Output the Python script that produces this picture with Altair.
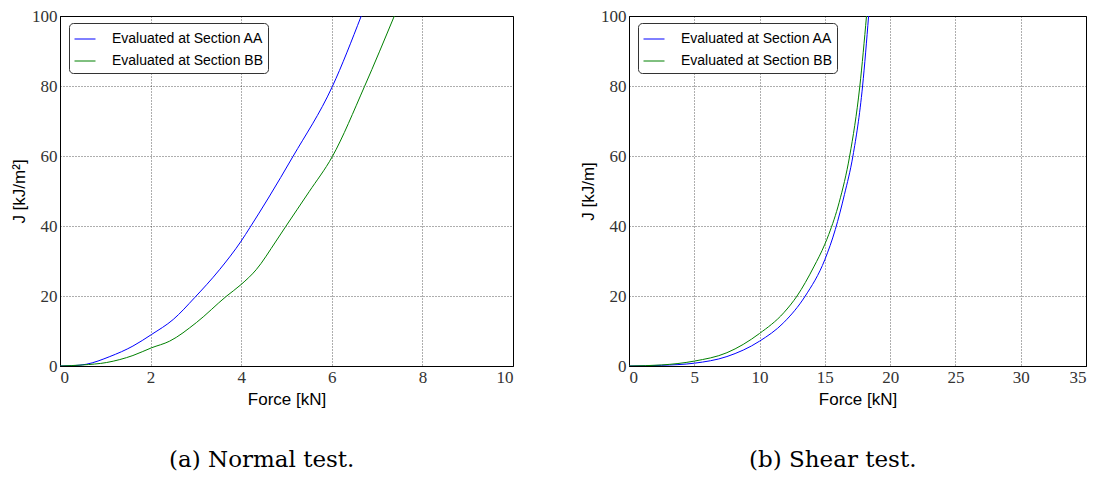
import altair as alt
import pandas as pd

SERIES = ["Evaluated at Section AA", "Evaluated at Section BB"]
COLORS = ["#0000ff", "#008000"]

# Normal test (left)
normal_aa_x = [0, 0.3, 0.58, 1.1, 1.61, 2.02, 2.5, 2.97, 3.52, 4.0, 4.19, 4.6, 5.14, 6.01, 6.65]
normal_aa_j = [0, 0.1, 0.5, 2.7, 5.7, 9.0, 13.3, 19.5, 27.5, 35.7, 39.5, 48.0, 59.8, 79.8, 100]
normal_bb_x = [0, 0.5, 1.03, 1.61, 2.02, 2.42, 3.01, 3.67, 4.0, 4.33, 4.77, 4.98, 5.5, 6.01, 6.72, 7.38]
normal_bb_j = [0, 0.3, 1.0, 3.0, 5.2, 7.1, 12.4, 19.9, 23.3, 27.5, 35.7, 39.8, 49.8, 59.8, 79.8, 100]

# Shear test (right)
shear_aa_x = [0, 2.5, 5, 7.5, 10, 11.85, 13.5, 15.0, 15.8, 16.5, 17.15, 17.89, 18.35]
shear_aa_j = [0, 0.2, 0.8, 2.7, 7.1, 12.4, 20.0, 30.4, 39.0, 49.0, 60.0, 80.0, 100]
shear_bb_x = [0, 2.5, 5, 7.5, 10, 11.85, 12.87, 14.15, 15.0, 15.3, 16.1, 16.9, 17.68, 18.19]
shear_bb_j = [0, 0.3, 1.4, 3.8, 9.3, 15.2, 20.0, 28.3, 34.8, 37.6, 46.8, 60.0, 80.0, 100]

x_ticks_normal = [0, 2, 4, 6, 8, 10]
x_ticks_shear = [0, 5, 10, 15, 20, 25, 30, 35]
y_ticks = [0, 20, 40, 60, 80, 100]


def frame(xa, ja, xb, jb):
    rows = []
    for i, (x, j) in enumerate(zip(xa, ja)):
        rows.append({"force": x, "J": j, "series": SERIES[0], "order": i})
    for i, (x, j) in enumerate(zip(xb, jb)):
        rows.append({"force": x, "J": j, "series": SERIES[1], "order": i})
    return pd.DataFrame(rows)


def panel(df, xmax, xticks, ytitle, caption, w):
    return alt.Chart(df).mark_line(strokeWidth=1, interpolate="monotone", clip=True).encode(
        x=alt.X("force:Q", title="Force [kN]",
                scale=alt.Scale(domain=[0, xmax], nice=False, zero=True),
                axis=alt.Axis(values=xticks, format="d")),
        y=alt.Y("J:Q", title=ytitle,
                scale=alt.Scale(domain=[0, 100], nice=False),
                axis=alt.Axis(values=y_ticks, format="d")),
        color=alt.Color("series:N", title=None,
                        scale=alt.Scale(domain=SERIES, range=COLORS),
                        legend=alt.Legend(orient="none", legendX=9, legendY=7)),
        order="order:Q",
    ).properties(
        width=w, height=350,
        title=alt.TitleParams(caption, orient="bottom", anchor="middle", frame="bounds",
                              font="DejaVu Serif", fontSize=23, fontWeight="normal",
                              color="#000", offset=42),
    )


left = panel(frame(normal_aa_x, normal_aa_j, normal_bb_x, normal_bb_j), 10, x_ticks_normal,
             "J [kJ/m²]", "(a) Normal test.", 453)
right = panel(frame(shear_aa_x, shear_aa_j, shear_bb_x, shear_bb_j), 35, x_ticks_shear,
              "J [kJ/m]", "(b) Shear test.", 457)

chart = alt.hconcat(left, right, spacing=65).resolve_scale(color="independent").properties(
    padding={"left": 10, "top": 6, "right": 0, "bottom": 0},
    background="white",
).configure_view(
    stroke="black", strokeWidth=1,
).configure_axis(
    domainColor="black", domainWidth=1,
    grid=True, gridColor="#000", gridDash=[1, 2], gridWidth=0.8, gridOpacity=0.8,
    ticks=False,
    labelFont="Liberation Serif", labelFontSize=17, labelColor="#333", labelPadding=3,
    titleFont="Liberation Sans", titleFontSize=17, titleFontWeight="normal", titleColor="#000",
).configure_axisX(
    titlePadding=6,
).configure_axisY(
    titlePadding=3,
).configure_legend(
    symbolType="stroke", symbolSize=441, symbolStrokeWidth=1,
    labelFont="Liberation Sans", labelFontSize=14, labelColor="#000", labelOffset=16,
    strokeColor="#333", fillColor="white", cornerRadius=4, padding=5, rowPadding=4,
    labelLimit=300,
)

chart.save("out.html", embed_options={"renderer": "svg", "actions": False})
